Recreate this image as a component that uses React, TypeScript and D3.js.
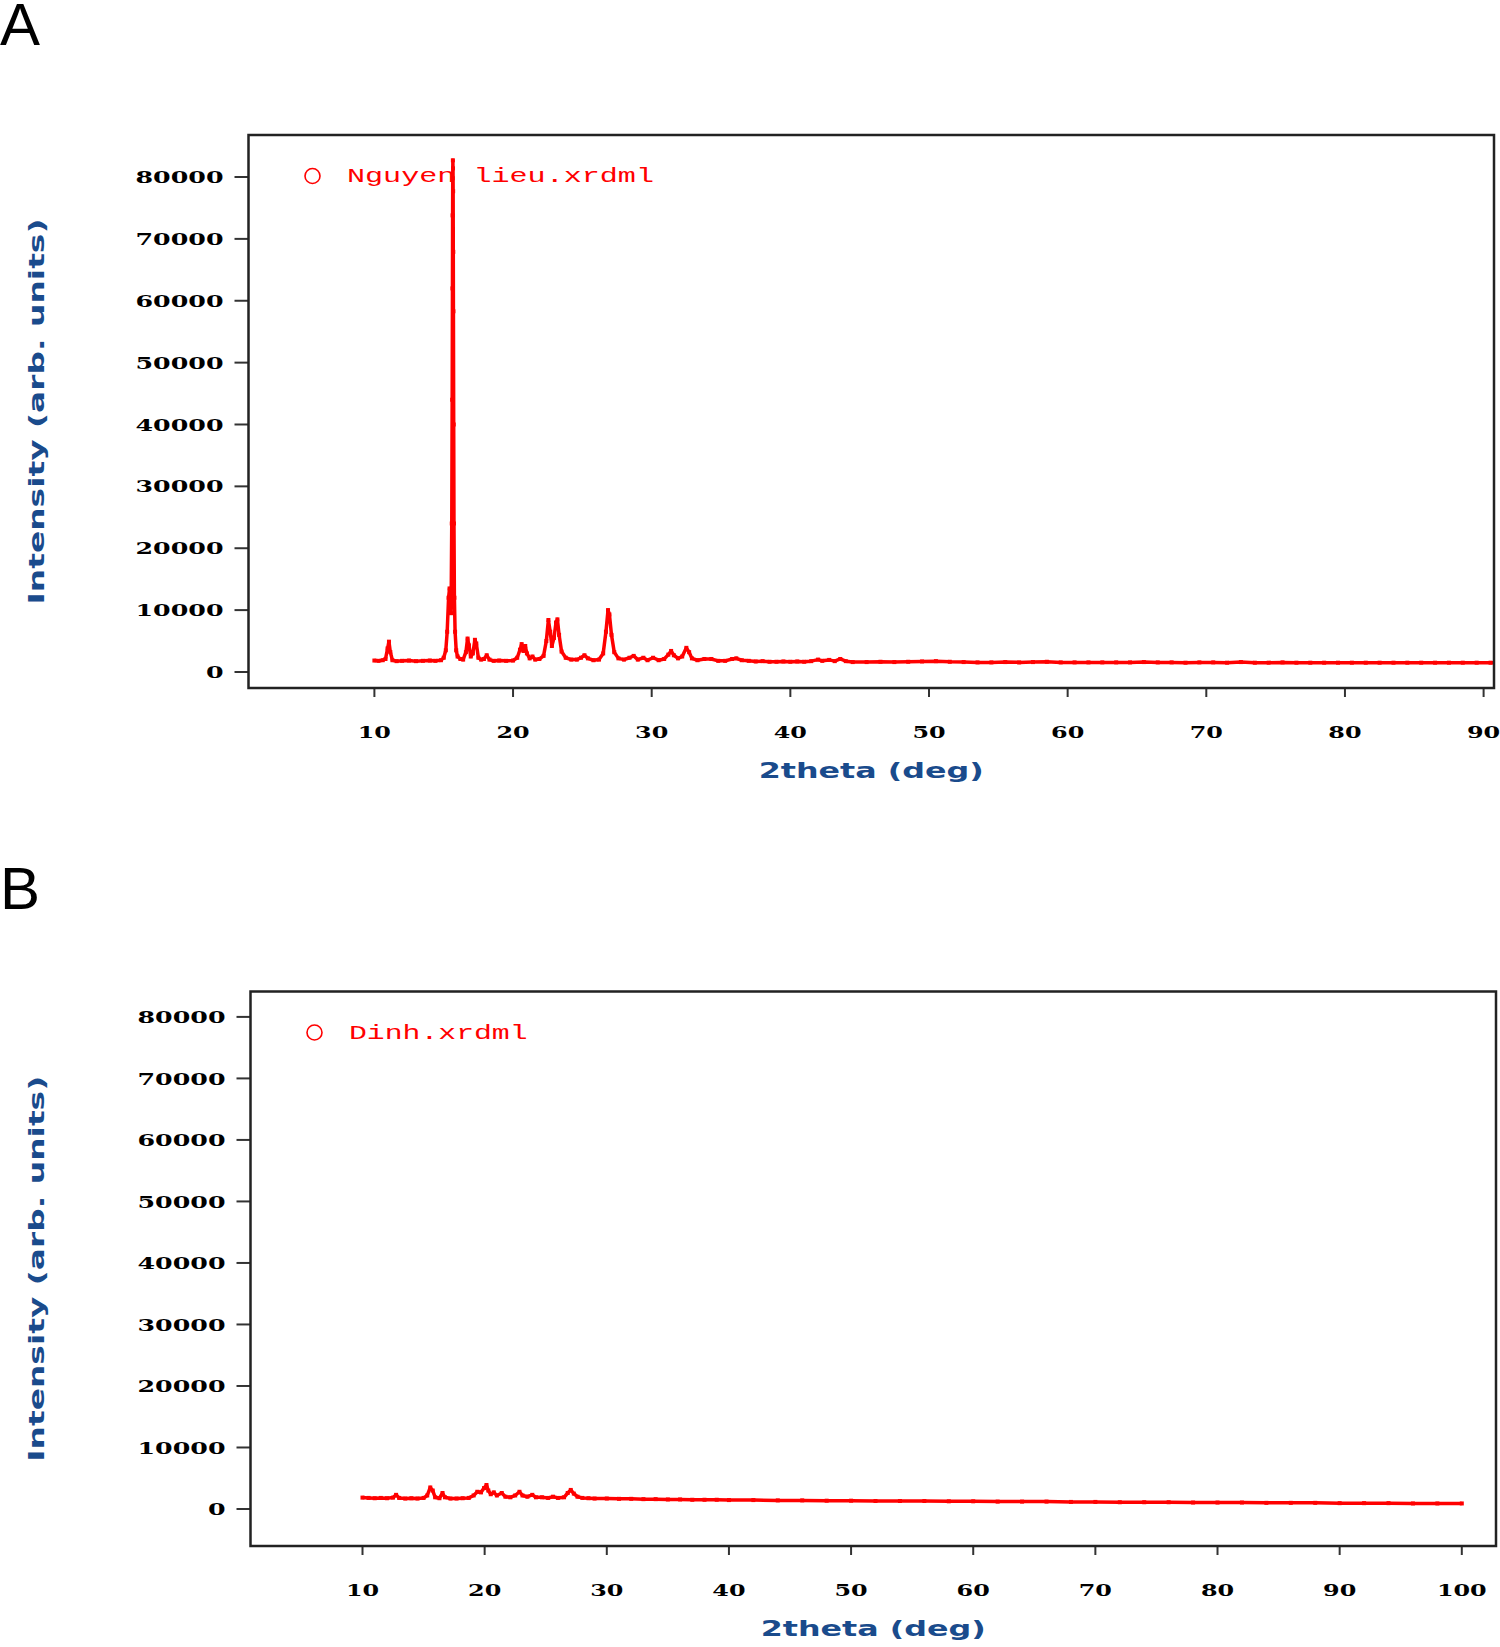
import React from "react";
import * as d3 from "d3";

// intensity ticks shared by both panels
const yTickValues = [0, 10000, 20000, 30000, 40000, 50000, 60000, 70000, 80000];
const xTicksA = [10, 20, 30, 40, 50, 60, 70, 80, 90];
const xTicksB = [10, 20, 30, 40, 50, 60, 70, 80, 90, 100];

// A: Nguyen lieu.xrdml
const thetaA = [
  10.0, 10.3, 10.6, 10.8, 10.95, 11.05, 11.15, 11.3, 11.6, 12.0, 12.5, 13.0, 13.5, 14.0, 14.4, 14.8,
  15.0, 15.15, 15.25, 15.35, 15.42, 15.48, 15.53, 15.58, 15.61, 15.63, 15.64, 15.65, 15.66, 15.67,
  15.68, 15.69, 15.7, 15.72, 15.74, 15.77, 15.82, 15.9, 16.0, 16.2, 16.4, 16.6, 16.72, 16.82, 16.95,
  17.1, 17.25, 17.35, 17.5, 17.7, 17.9, 18.1, 18.3, 18.6, 19.0, 19.5, 20.0, 20.3, 20.5, 20.62, 20.75,
  20.88, 21.0, 21.2, 21.4, 21.6, 21.9, 22.2, 22.4, 22.55, 22.68, 22.8, 22.95, 23.1, 23.2, 23.32, 23.5,
  23.8, 24.2, 24.6, 24.9, 25.15, 25.4, 25.8, 26.2, 26.5, 26.7, 26.85, 26.95, 27.1, 27.3, 27.6, 28.0,
  28.4, 28.7, 29.0, 29.4, 29.7, 30.1, 30.5, 30.9, 31.2, 31.4, 31.6, 31.9, 32.2, 32.5, 32.7, 32.9, 33.3,
  33.8, 34.3, 34.8, 35.3, 35.8, 36.1, 36.5, 37.0, 37.5, 38.0, 38.5, 39.0, 39.5, 40.0, 40.5, 41.0, 41.5,
  42.0, 42.3, 42.8, 43.2, 43.6, 44.0, 44.5, 45.5, 46.5, 47.5, 48.5, 49.5, 50.5, 51.5, 52.5, 53.5, 54.5,
  55.5, 56.5, 57.5, 58.5, 59.5, 60.5, 61.5, 62.5, 63.5, 64.5, 65.5, 66.5, 67.5, 68.5, 69.5, 70.5, 71.5,
  72.5, 73.5, 74.5, 75.5, 76.5, 77.5, 78.5, 79.5, 80.5, 81.5, 82.5, 83.5, 84.5, 85.5, 86.5, 87.5, 88.5,
  89.5, 90.5, 91.0,
];
const intensityA = [
  1850, 1800, 1900, 2100, 3800, 4900, 3200, 1900, 1750, 1800, 1850, 1750, 1800, 1850, 1800, 1900,
  2300, 3500, 6500, 12000, 13500, 11500, 9500, 24000, 44000, 62000, 73800, 79800, 82700, 81400,
  77700, 67900, 58300, 40000, 24000, 12000, 6500, 3500, 2500, 2100, 2000, 3200, 5400, 4300, 2500,
  3000, 5200, 4600, 2300, 2000, 2100, 2700, 2000, 1800, 1850, 1800, 1850, 2300, 3600, 4500, 3400,
  4200, 3000, 2200, 2500, 2000, 2100, 2600, 5000, 8400, 6500, 4200, 5500, 8000, 8500, 6000, 3300,
  2300, 2000, 2000, 2300, 2700, 2200, 1900, 2000, 3000, 6500, 10000, 9300, 6000, 3200, 2200, 2000,
  2300, 2600, 2000, 2300, 1900, 2300, 1900, 2100, 2800, 3400, 2700, 2200, 2500, 3900, 3200, 2200, 1900,
  2100, 2100, 1800, 1800, 2100, 2200, 1900, 1800, 1700, 1750, 1650, 1650, 1700, 1650, 1700, 1650, 1750,
  2000, 1800, 1950, 1750, 2100, 1750, 1600, 1600, 1650, 1600, 1650, 1700, 1750, 1650, 1600, 1550, 1550,
  1600, 1550, 1600, 1650, 1550, 1550, 1550, 1550, 1550, 1550, 1600, 1550, 1550, 1500, 1550, 1550, 1500,
  1600, 1500, 1500, 1550, 1500, 1500, 1500, 1500, 1500, 1500, 1500, 1500, 1500, 1500, 1500, 1500, 1500,
  1500, 1500, 1500,
];

// B: Dinh.xrdml
const thetaB = [
  10.0, 10.5, 11.0, 11.5, 12.0, 12.5, 12.75, 13.0, 13.5, 14.0, 14.5, 15.0, 15.3, 15.55, 15.75, 15.95,
  16.3, 16.55, 16.75, 17.2, 17.7, 18.2, 18.7, 19.1, 19.4, 19.7, 19.95, 20.15, 20.3, 20.5, 20.75, 21.0,
  21.4, 21.7, 22.1, 22.5, 22.85, 23.1, 23.5, 23.9, 24.2, 24.7, 25.2, 25.6, 26.0, 26.5, 26.8, 27.05,
  27.3, 27.6, 28.0, 28.5, 29.0, 30, 31, 32, 33, 34, 35, 36, 37, 38, 39, 40, 42, 44, 46, 48, 50, 52, 54,
  56, 58, 60, 62, 64, 66, 68, 70, 72, 74, 76, 78, 80, 82, 84, 86, 88, 90, 92, 94, 96, 98, 100,
];
const intensityB = [
  1850, 1800, 1750, 1800, 1750, 1850, 2300, 1800, 1700, 1750, 1700, 1800, 2200, 3500, 3000, 1900,
  1750, 2600, 1900, 1700, 1700, 1750, 1800, 2200, 2800, 2700, 3400, 3900, 3000, 2400, 2700, 2200,
  2600, 2000, 1900, 2200, 2800, 2200, 2000, 2300, 1900, 1900, 1800, 2000, 1800, 1900, 2600, 3100,
  2500, 2000, 1800, 1750, 1700, 1700, 1650, 1650, 1600, 1600, 1550, 1550, 1500, 1500, 1500, 1450, 1450,
  1400, 1400, 1350, 1350, 1300, 1300, 1300, 1250, 1250, 1200, 1200, 1200, 1150, 1150, 1100, 1100, 1100,
  1050, 1050, 1050, 1000, 1000, 1000, 950, 950, 950, 900, 900, 900,
];

const RED = "#ff0000";
const BLUE = "#1a4b8c";
const tickFont = "'DejaVu Serif', serif";
const titleFont = "'DejaVu Sans', Verdana, sans-serif";

function Panel({ id, letter, letterY, left, top, right, bottom, xDomain, yDomain, xTicks, theta, intensity, legend, legendLen }) {
  const x = d3.scaleLinear().domain(xDomain).range([left, right]);
  const y = d3.scaleLinear().domain(yDomain).range([bottom, top]);
  const pts = theta.map((t, i) => [t, intensity[i]]);
  const line = d3.line().x((d) => x(d[0])).y((d) => y(d[1]));
  const cx = (left + right) / 2;
  const cy = (top + bottom) / 2;

  return (
    <g>
      <text x={0} y={letterY} fontFamily="'Liberation Sans', Arial, sans-serif" fontSize={60}>
        {letter}
      </text>
      <defs>
        <clipPath id={id}>
          <rect x={left} y={top} width={right - left} height={bottom - top} />
        </clipPath>
      </defs>

      {/* y axis */}
      {yTickValues.map((v) => (
        <g key={"y" + v}>
          <line x1={left - 14} x2={left} y1={y(v)} y2={y(v)} stroke="#333" strokeWidth={2} />
          <text
            x={left - 25}
            y={y(v)}
            dy="0.36em"
            textAnchor="end"
            fontFamily={tickFont}
            fontWeight="bold"
            fontSize={17}
            textLength={17.6 * String(v).length}
            lengthAdjust="spacingAndGlyphs"
          >
            {v}
          </text>
        </g>
      ))}

      {/* x axis */}
      {xTicks.map((v) => (
        <g key={"x" + v}>
          <line x1={x(v)} x2={x(v)} y1={bottom} y2={bottom + 9} stroke="#333" strokeWidth={2} />
          <text
            x={x(v)}
            y={bottom + 50}
            textAnchor="middle"
            fontFamily={tickFont}
            fontWeight="bold"
            fontSize={17}
            textLength={16.6 * String(v).length}
            lengthAdjust="spacingAndGlyphs"
          >
            {v}
          </text>
        </g>
      ))}

      <text
        x={cx}
        y={bottom + 90}
        textAnchor="middle"
        fill={BLUE}
        fontFamily={titleFont}
        fontWeight="bold"
        fontSize={22}
        textLength={225}
        lengthAdjust="spacingAndGlyphs"
      >
        2theta (deg)
      </text>
      <text
        transform={`translate(44,${cy}) rotate(-90)`}
        textAnchor="middle"
        fill={BLUE}
        fontFamily={titleFont}
        fontWeight="bold"
        fontSize={22}
        textLength={386}
        lengthAdjust="spacingAndGlyphs"
      >
        Intensity (arb. units)
      </text>

      {/* data */}
      <g clipPath={`url(#${id})`}>
        <path d={line(pts)} fill="none" stroke={RED} strokeWidth={3.5} strokeLinejoin="round" />
        {pts.map((d, i) => (
          <rect key={i} x={x(d[0]) - 2} y={y(d[1]) - 2} width={4} height={4} fill={RED} />
        ))}
      </g>

      {/* legend */}
      <circle cx={left + 64} cy={top + 41} r={7.5} fill="none" stroke={RED} strokeWidth={1.6} />
      <text
        x={left + 98.5}
        y={top + 47}
        fill={RED}
        fontFamily="'Liberation Mono', 'Courier New', monospace"
        fontSize={20}
        textLength={legendLen}
        lengthAdjust="spacingAndGlyphs"
      >
        {legend}
      </text>

      <rect x={left} y={top} width={right - left} height={bottom - top} fill="none" stroke="#222" strokeWidth={2.5} />
    </g>
  );
}

export default function App() {
  return (
    <svg
      width={1500}
      height={1647}
      viewBox="0 0 1500 1647"
      style={{ position: "absolute", left: 0, top: 0, background: "#fff" }}
    >
      <rect width={1500} height={1647} fill="#fff" />
      <Panel
        id="clipA"
        letter="A"
        letterY={45}
        left={248.5}
        top={135}
        right={1494}
        bottom={688}
        xDomain={[0.92, 90.75]}
        yDomain={[-2590, 86790]}
        xTicks={xTicksA}
        theta={thetaA}
        intensity={intensityA}
        legend="Nguyen lieu.xrdml"
        legendLen={307}
      />
      <Panel
        id="clipB"
        letter="B"
        letterY={909}
        left={250.5}
        top={991.5}
        right={1496}
        bottom={1546}
        xDomain={[0.83, 102.8]}
        yDomain={[-6016, 84130]}
        xTicks={xTicksB}
        theta={thetaB}
        intensity={intensityB}
        legend="Dinh.xrdml"
        legendLen={178.6}
      />
    </svg>
  );
}
